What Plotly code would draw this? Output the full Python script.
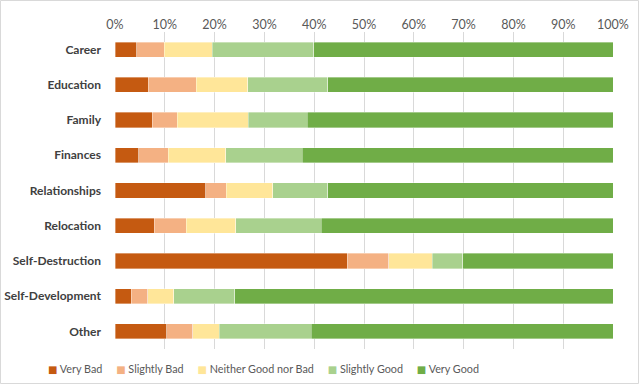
import plotly.graph_objects as go

categories = ["Career", "Education", "Family", "Finances", "Relationships",
              "Relocation", "Self-Destruction", "Self-Development", "Other"]
series_names = ["Very Bad", "Slightly Bad", "Neither Good nor Bad", "Slightly Good", "Very Good"]
very_bad = [4.4, 6.7, 7.5, 4.8, 18.2, 7.9, 46.6, 3.3, 10.4]
slightly_bad = [5.5, 9.6, 5.0, 5.9, 4.1, 6.4, 8.4, 3.3, 5.2]
neither = [9.6, 10.4, 14.3, 11.5, 9.4, 9.9, 8.7, 5.2, 5.3]
slightly_good = [20.4, 16.0, 11.8, 15.4, 11.0, 17.2, 6.1, 12.2, 18.5]
very_good = [60.1, 57.3, 61.4, 62.4, 57.3, 58.6, 30.2, 76.0, 60.6]
colors = ["#C55A11", "#F4B183", "#FFE699", "#A9D18E", "#70AD47"]

all_series = [very_bad, slightly_bad, neither, slightly_good, very_good]

W, H = 639, 384
ml, mr, mt, mb = 115, 26, 32, 35
pw = W - ml - mr
ph = H - mt - mb
FONT = "Lato, Open Sans, sans-serif"

fig = go.Figure()
for name, vals, col in zip(series_names, all_series, colors):
    fig.add_trace(go.Bar(
        y=categories, x=[v / 100 for v in vals], name=name, orientation="h",
        marker=dict(color=col, line=dict(color="rgba(255,255,255,0.6)", width=0.6)),
        showlegend=False,
    ))

fig.update_layout(
    width=W, height=H, barmode="stack", bargap=0.57,
    margin=dict(l=ml, r=mr, t=mt, b=mb, pad=0),
    paper_bgcolor="white", plot_bgcolor="white",
    font=dict(family=FONT, size=12, color="#595959"),
    xaxis=dict(range=[0, 1], dtick=0.1, tickformat=".0%", side="top",
               showgrid=True, gridcolor="#d9d9d9", gridwidth=1, zeroline=False,
               showline=False, ticks="", automargin=False,
               tickfont=dict(size=12.5, color="#595959", family=FONT)),
    yaxis=dict(autorange="reversed", showgrid=False, showline=False, ticks="",
               automargin=False, ticklabelstandoff=13,
               tickfont=dict(size=12, color="#404040", family=FONT, weight="bold")),
    showlegend=False,
)

# custom legend built from the series names / colours (single line, auto-spaced)
sep = "&nbsp;" * 5
legend_text = sep.join(
    f'<span style="color:{col};font-family:DejaVu Sans;font-size:10px">■</span> {name}'
    for name, col in zip(series_names, colors)
)
fig.add_annotation(
    xref="paper", yref="paper", x=(263 - ml) / pw, y=-(368 - mt - ph) / ph,
    xanchor="center", yanchor="middle", showarrow=False,
    text=legend_text, font=dict(family=FONT, size=10.8, color="#595959"),
)

fig.add_shape(type="rect", xref="paper", yref="paper",
              x0=-ml / pw + 0.5 / pw, x1=(W - ml - 0.5) / pw,
              y0=-mb / ph + 0.5 / ph, y1=(H - mb - 0.5) / ph,
              line=dict(color="#d9d9d9", width=1))

fig.write_html("out.html", config={"displayModeBar": False},
               post_script="document.body.style.margin='0';document.body.style.overflow='hidden';")
